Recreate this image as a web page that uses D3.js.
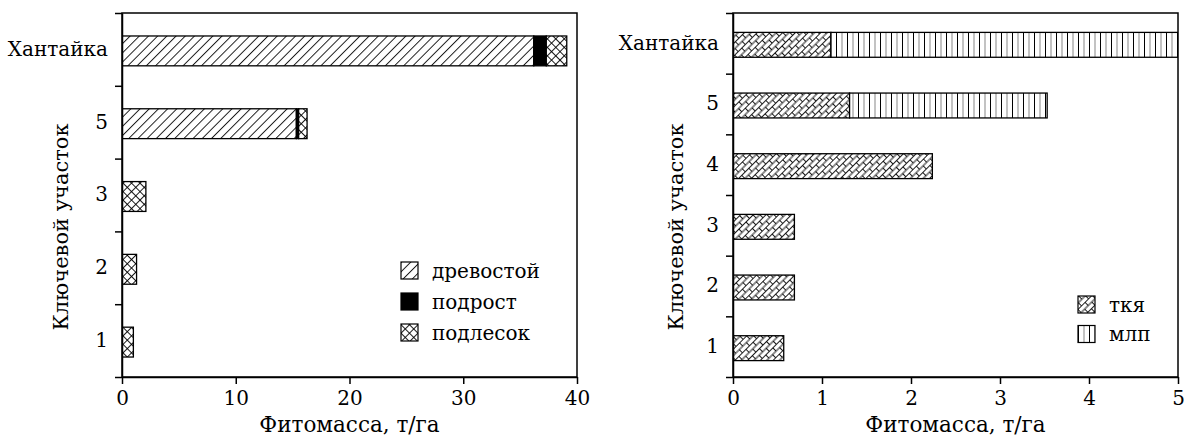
<!DOCTYPE html>
<html>
<head>
<meta charset="utf-8">
<script src="https://cdn.jsdelivr.net/npm/d3@7"></script>
<style>
  body { margin: 0; background: #fff; }
  text { font-family: "DejaVu Serif", serif; fill: #000; }
  .axis path, .axis line { stroke: #000; stroke-width: 1.5; }
  .axis text { font-size: 20px; font-family: "DejaVu Serif", serif; }
</style>
</head>
<body>
<svg width="1184" height="437"></svg>
<script>
// левый график
const leftCats = ["Хантайка", "5", "3", "2", "1"]
const drevostoy = [36.2, 15.33, 0, 0, 0]
const podrost = [1.1, 0.2, 0, 0, 0]
const podlesok = [1.8, 0.74, 2.1, 1.28, 1.0]
const leftTicks = [0, 10, 20, 30, 40]
const leftKeys = ["древостой", "подрост", "подлесок"]

// правый график
const rightCats = ["Хантайка", "5", "4", "3", "2", "1"]
const tkya = [1.1, 1.31, 2.24, 0.69, 0.69, 0.57]
const mlp = [3.9, 2.22, 0, 0, 0, 0]
const rightTicks = [0, 1, 2, 3, 4, 5]
const rightKeys = ["ткя", "млп"]

const svg = d3.select("svg")
const defs = svg.append("defs")

// штриховки
const hatch = defs.append("pattern").attr("id", "hatch")
  .attr("patternUnits", "userSpaceOnUse").attr("width", 6.5).attr("height", 10)
  .attr("patternTransform", "rotate(45)")
hatch.append("rect").attr("width", 6.5).attr("height", 10).attr("fill", "#fff")
hatch.append("line").attr("x1", 0.5).attr("y1", 0).attr("x2", 0.5).attr("y2", 10)
  .attr("stroke", "#000").attr("stroke-width", 0.9)

const cross = defs.append("pattern").attr("id", "cross")
  .attr("patternUnits", "userSpaceOnUse").attr("width", 6).attr("height", 6)
  .attr("patternTransform", "rotate(45)")
cross.append("rect").attr("width", 6).attr("height", 6).attr("fill", "#fff")
cross.append("line").attr("x1", 0.5).attr("y1", 0).attr("x2", 0.5).attr("y2", 6)
  .attr("stroke", "#000").attr("stroke-width", 0.9)
cross.append("line").attr("x1", 0).attr("y1", 0.5).attr("x2", 6).attr("y2", 0.5)
  .attr("stroke", "#000").attr("stroke-width", 0.9)

const brick = defs.append("pattern").attr("id", "brick")
  .attr("patternUnits", "userSpaceOnUse").attr("width", 10).attr("height", 9)
  .attr("patternTransform", "rotate(-45)")
brick.append("rect").attr("width", 10).attr("height", 9).attr("fill", "#fff")
brick.append("path")
  .attr("d", "M0,0.5H10M0,5H10M0.5,0.5V5M5.5,5V9")
  .attr("stroke", "#000").attr("stroke-width", 0.9).attr("fill", "none")

const vlines = defs.append("pattern").attr("id", "vlines")
  .attr("patternUnits", "userSpaceOnUse").attr("width", 11).attr("height", 10)
vlines.append("rect").attr("width", 11).attr("height", 10).attr("fill", "#fff")
vlines.append("line").attr("x1", 0.5).attr("y1", 0).attr("x2", 0.5).attr("y2", 10)
  .attr("stroke", "#000").attr("stroke-width", 1)
vlines.append("line").attr("x1", 6).attr("y1", 0).attr("x2", 6).attr("y2", 10)
  .attr("stroke", "#888").attr("stroke-width", 1)

function drawChart(opt) {
  const { cats, series, keys, fills, ticks, left, right, top, bottom, titleX } = opt
  const g = svg.append("g")

  const x = d3.scaleLinear().domain([ticks[0], ticks[ticks.length - 1]]).range([left, right])
  const y = d3.scaleBand().domain(cats).range([top, bottom]).padding(0)
  const barH = y.bandwidth() * 0.41

  const rows = cats.map((c, i) => {
    const r = { cat: c }
    keys.forEach((k, j) => { r[k] = series[j][i] })
    return r
  })
  const stacked = d3.stack().keys(keys)(rows)

  // рамка
  g.append("rect")
    .attr("x", left).attr("y", top)
    .attr("width", right - left).attr("height", bottom - top)
    .attr("fill", "none").attr("stroke", "#000").attr("stroke-width", 1.5)

  const clip = "clip" + left
  defs.append("clipPath").attr("id", clip)
    .append("rect").attr("x", left).attr("y", top)
    .attr("width", right - left).attr("height", bottom - top)

  g.append("g").attr("clip-path", "url(#" + clip + ")")
    .selectAll("g")
    .data(stacked)
    .enter()
    .append("g")
    .attr("fill", (d, i) => fills[i])
    .selectAll("rect")
    .data(d => d.filter(s => s[1] - s[0] > 0))
    .enter()
    .append("rect")
    .attr("x", d => x(d[0]))
    .attr("y", d => y(d.data.cat) + (y.bandwidth() - barH) / 2 + 1.5)
    .attr("width", d => x(d[1]) - x(d[0]))
    .attr("height", barH)
    .attr("stroke", "#000")
    .attr("stroke-width", 1.3)

  // ось X
  g.append("g").attr("class", "axis")
    .attr("transform", "translate(0," + bottom + ")")
    .call(d3.axisBottom(x).tickValues(ticks).tickFormat(d3.format("d"))
      .tickSize(7).tickPadding(7).tickSizeOuter(0))

  // ось Y: подписи по центру, засечки по границам
  g.append("g").attr("class", "axis")
    .attr("transform", "translate(" + left + ",0)")
    .call(d3.axisLeft(y).tickSize(0).tickPadding(14))
    .call(a => a.select(".domain").remove())
  const yb = d3.scaleLinear().domain([0, cats.length]).range([bottom, top])
  g.append("g").attr("class", "axis")
    .attr("transform", "translate(" + left + ",0)")
    .call(d3.axisLeft(yb).ticks(cats.length).tickSize(7).tickFormat("").tickSizeOuter(0))

  g.append("text")
    .attr("x", (left + right) / 2).attr("y", 432)
    .attr("text-anchor", "middle").attr("font-size", 21.5)
    .text("Фитомасса, т/га")

  g.append("text")
    .attr("transform", "translate(" + titleX + ",227) rotate(-90)")
    .attr("text-anchor", "middle").attr("dy", "0.35em").attr("font-size", 21)
    .text("Ключевой участок")

  // легенда
  const lg = g.append("g")
    .selectAll("g")
    .data(keys)
    .enter()
    .append("g")
    .attr("transform", (d, i) => "translate(" + opt.legX + "," + (opt.legY + i * opt.legStep) + ")")
  lg.append("rect")
    .attr("width", 17).attr("height", 17)
    .attr("fill", (d, i) => fills[i])
    .attr("stroke", "#000").attr("stroke-width", 1.2)
  lg.append("text")
    .attr("x", 31).attr("y", 8.5).attr("dy", "0.35em")
    .attr("font-size", 20)
    .text(d => d)
}

drawChart({
  cats: leftCats, series: [drevostoy, podrost, podlesok], keys: leftKeys,
  fills: ["url(#hatch)", "#000", "url(#cross)"], ticks: leftTicks,
  left: 122, right: 577, top: 13, bottom: 377, titleX: 61,
  legX: 401, legY: 262, legStep: 31
})

drawChart({
  cats: rightCats, series: [tkya, mlp], keys: rightKeys,
  fills: ["url(#brick)", "url(#vlines)"], ticks: rightTicks,
  left: 733, right: 1178, top: 13, bottom: 377, titleX: 676,
  legX: 1078, legY: 296, legStep: 29.5
})
</script>
</body>
</html>
